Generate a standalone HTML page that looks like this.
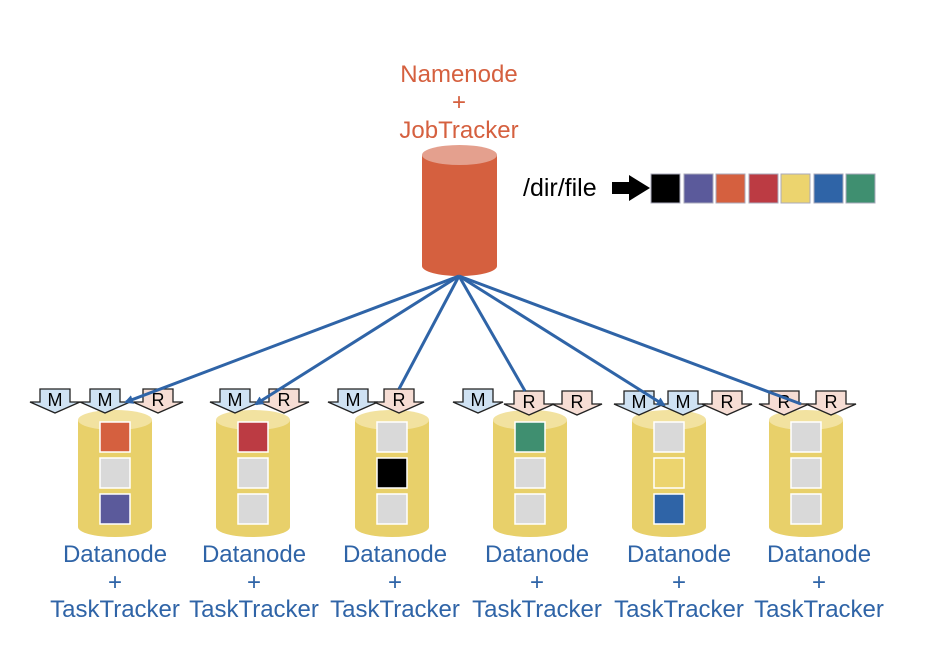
<!DOCTYPE html>
<html><head><meta charset="utf-8"><style>html,body{margin:0;padding:0;background:#fff}svg{display:block}</style></head>
<body>
<svg width="932" height="662" viewBox="0 0 932 662" xmlns="http://www.w3.org/2000/svg" font-family="Liberation Sans, Arial, sans-serif">
<defs>
<marker id="ah" markerWidth="9" markerHeight="9" refX="7" refY="4.5" orient="auto" markerUnits="userSpaceOnUse"><path d="M0,0 L9,4.5 L0,9 z" fill="#2f64a7"/></marker>
<g id="dcyl">
<path d="M-37,0 L-37,107 A37,10 0 0 0 37,107 L37,0 Z" fill="#e8d06a"/>
<ellipse cx="0" cy="0" rx="37" ry="10" fill="#f2e2a0"/>
</g>
<g id="arrM"><path d="M-15,0 L15,0 L15,13 L25,13 L0,24 L-25,13 L-15,13 Z" fill="#cfe2f3" stroke="#222" stroke-width="1.3"/><text x="0" y="17" font-size="18" text-anchor="middle" fill="#000">M</text></g>
<g id="arrR"><path d="M-15,0 L15,0 L15,13 L25,13 L0,24 L-25,13 L-15,13 Z" fill="#f6ddd4" stroke="#222" stroke-width="1.3"/><text x="0" y="17" font-size="18" text-anchor="middle" fill="#000">R</text></g>
</defs>

<text x="459" y="82" font-size="24" fill="#d5603f" text-anchor="middle">Namenode</text>
<text x="459" y="110" font-size="24" fill="#d5603f" text-anchor="middle">+</text>
<text x="459" y="138" font-size="24" fill="#d5603f" text-anchor="middle">JobTracker</text>

<path d="M422,155 L422,266 A37.5,10 0 0 0 497,266 L497,155 Z" fill="#d5603f"/>
<ellipse cx="459.5" cy="155" rx="37.5" ry="10" fill="#e4a08e"/>

<text x="523" y="196" font-size="25" fill="#000">/dir/file</text>
<path d="M612,182 L629,182 L629,175 L650,188 L629,201 L629,194 L612,194 Z" fill="#000"/>
<g stroke="#aab" stroke-width="1">
<rect x="651" y="174" width="29" height="29" fill="#000"/>
<rect x="684" y="174" width="29" height="29" fill="#5b5a9b"/>
<rect x="716" y="174" width="29" height="29" fill="#d5603f"/>
<rect x="749" y="174" width="29" height="29" fill="#bc3b43"/>
<rect x="781" y="174" width="29" height="29" fill="#ecd46e"/>
<rect x="814" y="174" width="29" height="29" fill="#2f64a7"/>
<rect x="846" y="174" width="29" height="29" fill="#3f8f70"/>
</g>

<use href="#dcyl" x="115" y="420"/>
<use href="#dcyl" x="253" y="420"/>
<use href="#dcyl" x="392" y="420"/>
<use href="#dcyl" x="530" y="420"/>
<use href="#dcyl" x="669" y="420"/>
<use href="#dcyl" x="806" y="420"/>

<g stroke="#fff" stroke-width="1.5">
<rect x="100" y="422" width="30" height="30" fill="#d5603f"/><rect x="100" y="458" width="30" height="30" fill="#d9d9d9"/><rect x="100" y="494" width="30" height="30" fill="#5b5a9b"/>
<rect x="238" y="422" width="30" height="30" fill="#bc3b43"/><rect x="238" y="458" width="30" height="30" fill="#d9d9d9"/><rect x="238" y="494" width="30" height="30" fill="#d9d9d9"/>
<rect x="377" y="422" width="30" height="30" fill="#d9d9d9"/><rect x="377" y="458" width="30" height="30" fill="#000"/><rect x="377" y="494" width="30" height="30" fill="#d9d9d9"/>
<rect x="515" y="422" width="30" height="30" fill="#3f8f70"/><rect x="515" y="458" width="30" height="30" fill="#d9d9d9"/><rect x="515" y="494" width="30" height="30" fill="#d9d9d9"/>
<rect x="654" y="422" width="30" height="30" fill="#d9d9d9"/><rect x="654" y="458" width="30" height="30" fill="#ecd46e"/><rect x="654" y="494" width="30" height="30" fill="#2f64a7"/>
<rect x="791" y="422" width="30" height="30" fill="#d9d9d9"/><rect x="791" y="458" width="30" height="30" fill="#d9d9d9"/><rect x="791" y="494" width="30" height="30" fill="#d9d9d9"/>
</g>

<use href="#arrM" x="55" y="389"/><use href="#arrM" x="105" y="389"/><use href="#arrR" x="158" y="389"/>
<use href="#arrM" x="235" y="389"/><use href="#arrR" x="284" y="389"/>
<use href="#arrM" x="353" y="389"/><use href="#arrR" x="399" y="389"/>
<use href="#arrM" x="478" y="389"/><use href="#arrR" x="529" y="391"/><use href="#arrR" x="577" y="391"/>
<use href="#arrM" x="639" y="391"/><use href="#arrM" x="683" y="391"/><use href="#arrR" x="727" y="391"/>
<use href="#arrR" x="784" y="391"/><use href="#arrR" x="831" y="391"/>

<g stroke="#2f64a7" stroke-width="3" fill="none">
<line x1="459" y1="276" x2="126" y2="402" marker-end="url(#ah)"/>
<line x1="459" y1="276" x2="256" y2="404" marker-end="url(#ah)"/>
<line x1="459" y1="276" x2="399" y2="389"/>
<line x1="459" y1="276" x2="525" y2="391"/>
<line x1="459" y1="276" x2="664" y2="405" marker-end="url(#ah)"/>
<line x1="459" y1="276" x2="801" y2="404"/>
</g>

<g font-size="24" fill="#2f64a7" text-anchor="middle">
<text x="115" y="562">Datanode</text><text x="115" y="590">+</text><text x="115" y="617">TaskTracker</text>
<text x="254" y="562">Datanode</text><text x="254" y="590">+</text><text x="254" y="617">TaskTracker</text>
<text x="395" y="562">Datanode</text><text x="395" y="590">+</text><text x="395" y="617">TaskTracker</text>
<text x="537" y="562">Datanode</text><text x="537" y="590">+</text><text x="537" y="617">TaskTracker</text>
<text x="679" y="562">Datanode</text><text x="679" y="590">+</text><text x="679" y="617">TaskTracker</text>
<text x="819" y="562">Datanode</text><text x="819" y="590">+</text><text x="819" y="617">TaskTracker</text>
</g>
</svg>
</body></html>
